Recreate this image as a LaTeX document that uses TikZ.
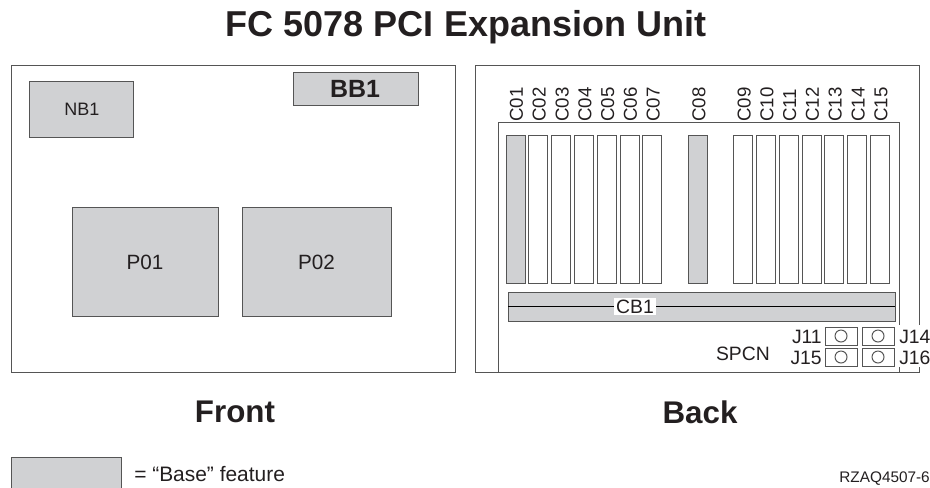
\documentclass[tikz,border=0pt]{standalone}
\usepackage{fontspec}
\setmainfont{Liberation Sans}
\definecolor{basegray}{HTML}{D0D1D3}
\definecolor{linegray}{HTML}{555555}
\definecolor{inkc}{HTML}{231F20}
\tikzset{
  box/.style={draw=linegray,line width=0.75pt},
  feat/.style={box,fill=basegray},
  lbl/.style={text=inkc,inner sep=0pt,font=\fontsize{#1}{#1}\selectfont},
  blbl/.style={text=inkc,inner sep=0pt,font=\fontsize{#1}{#1}\selectfont\bfseries},
}
\begin{document}
\begin{tikzpicture}[x=0.75pt,y=-0.75pt]
\useasboundingbox (0,0) rectangle (930,487);
\node[blbl=27] (title) at (466,27) {FC 5078 PCI Expansion Unit};
% front
\draw[box] (11,65) rectangle (455,372);
\draw[feat] (29,81) rectangle (133,137);
\node[lbl=13.5] (nb1) at (82,109.5) {NB1};
\draw[feat] (293,72) rectangle (418,105);
\node[blbl=18.7] (bb1) at (355,89) {BB1};
\draw[feat] (72,207) rectangle (218,316);
\node[lbl=15.5] (p01) at (145,262) {P01};
\draw[feat] (242,207) rectangle (391,316);
\node[lbl=15.5] (p02) at (316.5,262) {P02};
\node[blbl=23.5] (front) at (235,412) {Front};
% back
\draw[box] (919,325) -- (919,65) -- (475,65) -- (475,372) -- (899,372);
\draw[box] (899,372) -- (899,367) (919,367) -- (919,372) -- (899,372);
\draw[box] (498,372) -- (498,122) -- (899,122) -- (899,325);
\foreach \n/\x/\f in {C01/506/basegray,C02/528.8/white,C03/551.6/white,C04/574.4/white,C05/597.2/white,C06/620/white,C07/642.8/white,C08/688.4/basegray,C09/733.6/white,C10/756.4/white,C11/779.2/white,C12/802/white,C13/824.8/white,C14/847.6/white,C15/870.4/white}{
  \draw[box,fill=\f] (\x,135) rectangle ++(19,148);
  \node[lbl=14,rotate=90,anchor=west] (\n) at (\x+10.5,122) {\n};
}
\draw[feat] (508,292) rectangle (895,321);
\draw[draw=black,line width=0.65pt] (508,306.5) -- (895,306.5);
\node[lbl=14.5,fill=white,inner xsep=1.5pt,inner ysep=1pt] (cb1) at (635,306.5) {CB1};
\foreach \nm/\x/\y in {a/825/327,b/862/327,c/825/348,d/862/348}{
  \draw[box,fill=white] (\x,\y) rectangle ++(32,18);
  \draw[box] (\x+16,\y+9) circle (6);
}
\node[lbl=14.5,anchor=east] (j11) at (822,337) {J11};
\node[lbl=14.5,anchor=west] (j14) at (899,337) {J14};
\node[lbl=14.5,anchor=east] (j15) at (822,358) {J15};
\node[lbl=14.5,anchor=west] (j16) at (899,358) {J16};
\node[lbl=14.5,anchor=east] (spcn) at (770,354) {SPCN};
\node[blbl=23.5] (back) at (700,412) {Back};
% legend
\draw[feat] (11,457) rectangle (121,492);
\node[lbl=15.7,anchor=west] (base) at (134,474) {= “Base” feature};
\node[lbl=11.5,anchor=east] (ref) at (930,479) {RZAQ4507-6};
\end{tikzpicture}
\end{document}
